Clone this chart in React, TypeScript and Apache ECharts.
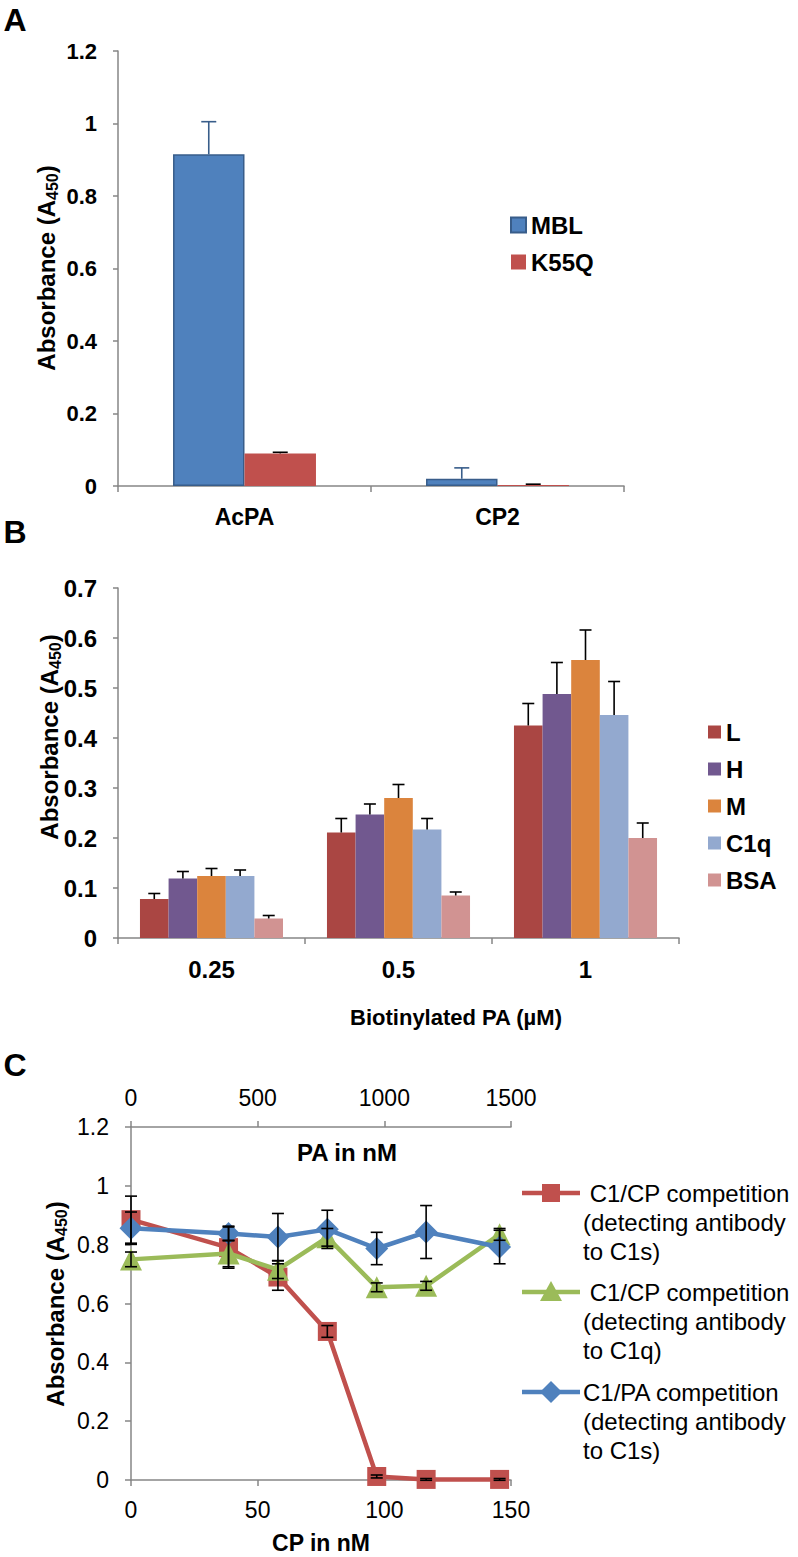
import React, { useEffect, useRef } from "react";
import * as echarts from "echarts";

// ---------- Panel A ----------
const A_CATS = ["AcPA", "CP2"];
const A_MBL = [0.915, 0.02];
const A_MBL_ERR = [0.09, 0.03];
const A_K55Q = [0.09, 0.003];
const A_K55Q_ERR = [0.003, 0.002];

// ---------- Panel B ----------
const B_CATS = ["0.25", "0.5", "1"];
const B_NAMES = ["L", "H", "M", "C1q", "BSA"];
const B_L = [0.078, 0.211, 0.425];
const B_L_ERR = [0.011, 0.028, 0.044];
const B_H = [0.119, 0.247, 0.488];
const B_H_ERR = [0.014, 0.021, 0.063];
const B_M = [0.124, 0.28, 0.556];
const B_M_ERR = [0.015, 0.027, 0.06];
const B_C1Q = [0.124, 0.217, 0.446];
const B_C1Q_ERR = [0.012, 0.022, 0.067];
const B_BSA = [0.039, 0.085, 0.2];
const B_BSA_ERR = [0.006, 0.007, 0.03];

// ---------- Panel C ----------
const C_CP = [0, 38.5, 58, 77.5, 97, 116.5, 145.5];
const C_PA = [0, 385, 580, 775, 970, 1165, 1455];
const C_RED = [0.885, 0.79, 0.69, 0.505, 0.012, 0.002, 0.002];
const C_RED_ERR = [0.08, 0.07, 0.045, 0.02, 0.005, 0.003, 0.003];
const C_GREEN = [0.75, 0.77, 0.715, 0.825, 0.655, 0.66, 0.835];
const C_GREEN_ERR = [0.025, 0.045, 0.03, 0.03, 0.015, 0.015, 0.02];
const C_BLUE = [0.856, 0.838, 0.826, 0.852, 0.787, 0.843, 0.792];
const C_BLUE_ERR = [0.055, 0.025, 0.08, 0.065, 0.055, 0.09, 0.057];
const C_NAMES = [
  "C1/CP competition (C1s)",
  "C1/CP competition (C1q)",
  "C1/PA competition (C1s)",
];

const FONT = "'Liberation Sans', Arial, Helvetica, sans-serif";
const AXIS_GRAY = "#868686";
const RED = "#C0504D";
const GREEN = "#9BBB59";
const BLUE = "#4F81BD";
const B_COLORS = ["#AA4643", "#71588F", "#DB843D", "#93A9CF", "#D19392"];

const A_GAP = 0.435;
const B_GAP = 0.235;

function errRender(n: number, i: number, gap: number, capW: number, color: string, both: boolean) {
  return (params: any, api: any) => {
    const x = api.value(0);
    const v = api.value(1);
    const e = api.value(2);
    const c = api.coord([x, v]);
    let cx = c[0];
    if (n > 0) {
      const band = api.size([1, 0])[0];
      const bw = (band * (1 - gap)) / n;
      cx += (i - (n - 1) / 2) * bw;
    }
    const top = api.coord([x, v + e])[1];
    const bot = both ? api.coord([x, v - e])[1] : c[1];
    const style = { stroke: color, lineWidth: 1.6 };
    const children: any[] = [
      { type: "line", shape: { x1: cx, y1: bot, x2: cx, y2: top }, style },
      { type: "line", shape: { x1: cx - capW / 2, y1: top, x2: cx + capW / 2, y2: top }, style },
    ];
    if (both) {
      children.push({ type: "line", shape: { x1: cx - capW / 2, y1: bot, x2: cx + capW / 2, y2: bot }, style });
    }
    return { type: "group", children };
  };
}

const axisLine = { show: true, lineStyle: { color: AXIS_GRAY, width: 1.5 } };
const axisTick = { show: true, length: 6, lineStyle: { color: AXIS_GRAY, width: 1.5 } };
const plain = (v: number) => String(v);

function yName(x: number, y: number, size: number, sub: number) {
  return {
    type: "text",
    x,
    y,
    rotation: Math.PI / 2,
    style: {
      text: "{b|Absorbance (A}{s|450}{b|)}",
      align: "center",
      verticalAlign: "middle",
      fill: "#000",
      rich: {
        b: { fontSize: size, fontWeight: "bold", fontFamily: FONT, lineHeight: 28, fill: "#000" },
        s: { fontSize: sub, fontWeight: "bold", fontFamily: FONT, lineHeight: 14, verticalAlign: "bottom", fill: "#000" },
      },
    },
  };
}

function txt(x: number, y: number, text: string, size: number, bold: boolean, align = "center") {
  return {
    type: "text",
    x,
    y,
    style: {
      text,
      fontSize: size,
      fontWeight: bold ? "bold" : "normal",
      fontFamily: FONT,
      fill: "#000",
      align,
      verticalAlign: "middle",
    },
  };
}

function legendC(y: number, color: string, marker: string, lines: string, textX: number) {
  const els: any[] = [
    { type: "line", shape: { x1: 522, y1: y, x2: 580, y2: y }, style: { stroke: color, lineWidth: 4.5 } },
  ];
  if (marker === "rect") {
    els.push({ type: "rect", shape: { x: 542, y: y - 9, width: 18, height: 18 }, style: { fill: color } });
  } else if (marker === "triangle") {
    els.push({ type: "polygon", shape: { points: [[551, y - 11], [562, y + 9], [540, y + 9]] }, style: { fill: color } });
  } else {
    els.push({ type: "polygon", shape: { points: [[551, y - 11], [562, y], [551, y + 11], [540, y]] }, style: { fill: color } });
  }
  els.push({
    type: "text",
    x: textX,
    y: y - 14.5,
    style: { text: lines, fontSize: 24, fontFamily: FONT, lineHeight: 29, fill: "#000", verticalAlign: "top", align: "left" },
  });
  return els;
}

export default function App() {
  const ref = useRef<HTMLDivElement>(null);

  useEffect(() => {
    if (!ref.current) return;
    const chart = echarts.init(ref.current, undefined, { renderer: "svg" });

    const bData = [B_L, B_H, B_M, B_C1Q, B_BSA];
    const bErr = [B_L_ERR, B_H_ERR, B_M_ERR, B_C1Q_ERR, B_BSA_ERR];

    const series: any[] = [
      {
        name: "MBL",
        type: "bar",
        xAxisIndex: 0,
        yAxisIndex: 0,
        data: A_MBL,
        barGap: "0%",
        barCategoryGap: A_GAP * 100 + "%",
        itemStyle: { color: BLUE, borderColor: "#385D8A", borderWidth: 1.5 },
      },
      {
        name: "K55Q",
        type: "bar",
        xAxisIndex: 0,
        yAxisIndex: 0,
        data: A_K55Q,
        barGap: "0%",
        barCategoryGap: A_GAP * 100 + "%",
        itemStyle: { color: RED },
      },
      {
        type: "custom",
        xAxisIndex: 0,
        yAxisIndex: 0,
        z: 5,
        renderItem: errRender(2, 0, A_GAP, 15, "#385D8A", false),
        data: A_CATS.map((_, k) => [k, A_MBL[k], A_MBL_ERR[k]]),
      },
      {
        type: "custom",
        xAxisIndex: 0,
        yAxisIndex: 0,
        z: 5,
        renderItem: errRender(2, 1, A_GAP, 15, "#000", false),
        data: A_CATS.map((_, k) => [k, A_K55Q[k], A_K55Q_ERR[k]]),
      },
    ];

    B_NAMES.forEach((nm, i) => {
      series.push({
        name: nm,
        type: "bar",
        xAxisIndex: 1,
        yAxisIndex: 1,
        data: bData[i],
        barGap: "0%",
        barCategoryGap: B_GAP * 100 + "%",
        itemStyle: { color: B_COLORS[i] },
      });
    });
    B_NAMES.forEach((nm, i) => {
      series.push({
        type: "custom",
        xAxisIndex: 1,
        yAxisIndex: 1,
        z: 5,
        renderItem: errRender(5, i, B_GAP, 12, "#000", false),
        data: B_CATS.map((_, k) => [k, bData[i][k], bErr[i][k]]),
      });
    });

    series.push(
      {
        name: C_NAMES[0],
        type: "line",
        xAxisIndex: 2,
        yAxisIndex: 2,
        data: C_CP.map((x, k) => [x, C_RED[k]]),
        symbol: "rect",
        symbolSize: 19,
        lineStyle: { color: RED, width: 4.5 },
        itemStyle: { color: RED },
        z: 2,
      },
      {
        name: C_NAMES[1],
        type: "line",
        xAxisIndex: 2,
        yAxisIndex: 2,
        data: C_CP.map((x, k) => [x, C_GREEN[k]]),
        symbol: "triangle",
        symbolSize: 22,
        lineStyle: { color: GREEN, width: 4.5 },
        itemStyle: { color: GREEN },
        z: 3,
      },
      {
        name: C_NAMES[2],
        type: "line",
        xAxisIndex: 3,
        yAxisIndex: 2,
        data: C_PA.map((x, k) => [x, C_BLUE[k]]),
        symbol: "diamond",
        symbolSize: 23,
        lineStyle: { color: BLUE, width: 4.5 },
        itemStyle: { color: BLUE },
        z: 4,
      },
      {
        type: "custom",
        xAxisIndex: 2,
        yAxisIndex: 2,
        z: 6,
        renderItem: errRender(0, 0, 0, 12, "#000", true),
        data: C_CP.map((x, k) => [x, C_RED[k], C_RED_ERR[k]]),
      },
      {
        type: "custom",
        xAxisIndex: 2,
        yAxisIndex: 2,
        z: 6,
        renderItem: errRender(0, 0, 0, 12, "#000", true),
        data: C_CP.map((x, k) => [x, C_GREEN[k], C_GREEN_ERR[k]]),
      },
      {
        type: "custom",
        xAxisIndex: 3,
        yAxisIndex: 2,
        z: 6,
        renderItem: errRender(0, 0, 0, 12, "#000", true),
        data: C_PA.map((x, k) => [x, C_BLUE[k], C_BLUE_ERR[k]]),
      }
    );

    const option: any = {
      animation: false,
      backgroundColor: "#fff",
      textStyle: { fontFamily: FONT, color: "#000" },
      grid: [
        { left: 118, top: 51, width: 506, height: 435 },
        { left: 118, top: 588, width: 561, height: 350 },
        { left: 131, top: 1127, width: 380, height: 353 },
      ],
      xAxis: [
        {
          gridIndex: 0,
          type: "category",
          data: A_CATS,
          axisLine,
          axisTick,
          axisLabel: { fontSize: 23, fontWeight: "bold", color: "#000", margin: 19, fontFamily: FONT },
        },
        {
          gridIndex: 1,
          type: "category",
          data: B_CATS,
          axisLine,
          axisTick,
          axisLabel: { fontSize: 24, fontWeight: "bold", color: "#000", margin: 19, fontFamily: FONT },
        },
        {
          gridIndex: 2,
          type: "value",
          position: "bottom",
          min: 0,
          max: 150,
          interval: 50,
          splitLine: { show: false },
          axisLine: { ...axisLine, onZero: false },
          axisTick,
          axisLabel: { fontSize: 23, color: "#000", margin: 18, fontFamily: FONT, formatter: plain },
        },
        {
          gridIndex: 2,
          type: "value",
          position: "top",
          min: 0,
          max: 1500,
          interval: 500,
          splitLine: { show: false },
          axisLine: { ...axisLine, onZero: false },
          axisTick,
          axisLabel: { fontSize: 23, color: "#000", margin: 18, fontFamily: FONT, formatter: plain },
        },
      ],
      yAxis: [
        {
          gridIndex: 0,
          type: "value",
          min: 0,
          max: 1.2,
          interval: 0.2,
          splitLine: { show: false },
          axisLine,
          axisTick: { ...axisTick, length: 5 },
          axisLabel: { fontSize: 22, fontWeight: "bold", color: "#000", margin: 21, fontFamily: FONT },
        },
        {
          gridIndex: 1,
          type: "value",
          min: 0,
          max: 0.7,
          interval: 0.1,
          splitLine: { show: false },
          axisLine,
          axisTick: { ...axisTick, length: 5 },
          axisLabel: { fontSize: 24, fontWeight: "bold", color: "#000", margin: 21, fontFamily: FONT },
        },
        {
          gridIndex: 2,
          type: "value",
          min: 0,
          max: 1.2,
          interval: 0.2,
          splitLine: { show: false },
          axisLine,
          axisTick: { ...axisTick, length: 6 },
          axisLabel: { fontSize: 23, color: "#000", margin: 22, fontFamily: FONT },
        },
      ],
      legend: [
        {
          data: ["MBL", "K55Q"],
          orient: "vertical",
          left: 505,
          top: 208,
          itemWidth: 15,
          itemHeight: 15,
          itemGap: 13,
          icon: "rect",
          selectedMode: false,
          textStyle: { fontSize: 24, fontWeight: "bold", lineHeight: 24, color: "#000", fontFamily: FONT },
        },
        {
          data: B_NAMES,
          orient: "vertical",
          left: 703,
          top: 715,
          itemWidth: 13,
          itemHeight: 13,
          itemGap: 13,
          icon: "rect",
          selectedMode: false,
          textStyle: { fontSize: 24, fontWeight: "bold", lineHeight: 24, color: "#000", fontFamily: FONT },
        },
      ],
      graphic: [
        txt(15, 20, "A", 32, true),
        txt(15, 532, "B", 32, true),
        txt(15, 1065, "C", 32, true),
        yName(46, 268, 24, 16),
        yName(49, 737, 24, 16),
        yName(55, 1304, 24, 16),
        txt(456, 1017, "Biotinylated PA (µM)", 22, true),
        txt(347, 1152, "PA in nM", 24, true),
        txt(321, 1543, "CP in nM", 23, true),
        ...legendC(1193, RED, "rect", " C1/CP competition\n(detecting antibody\nto C1s)", 583),
        ...legendC(1292, GREEN, "triangle", " C1/CP competition\n(detecting antibody\nto C1q)", 583),
        ...legendC(1392, BLUE, "diamond", "C1/PA competition\n(detecting antibody\nto C1s)", 583),
      ],
      series,
    };

    chart.setOption(option);
    return () => chart.dispose();
  }, []);

  return (
    <div
      ref={ref}
      style={{ position: "absolute", left: 0, top: 0, width: 798, height: 1557, background: "#fff" }}
    />
  );
}
